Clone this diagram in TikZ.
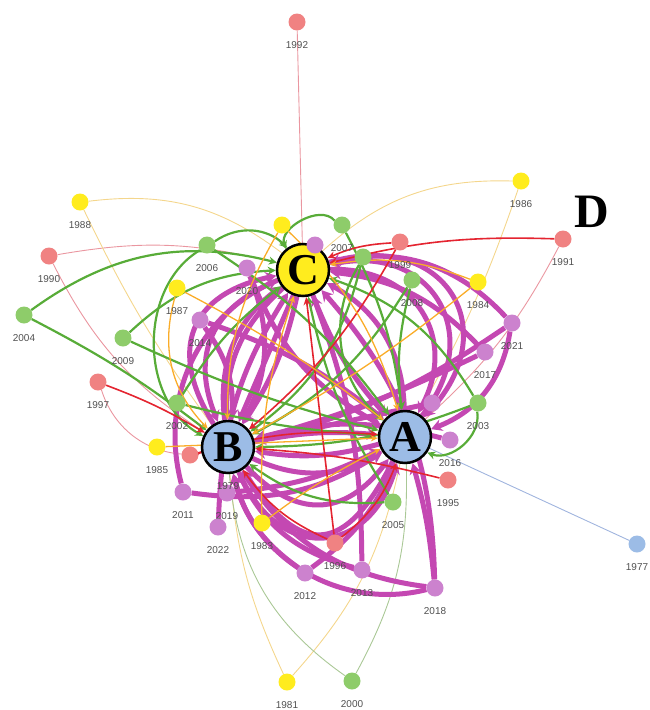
\documentclass[tikz,border=0pt]{standalone}
\usepackage{fontspec}
\setmainfont{Liberation Serif}
\newfontfamily\labfont{Liberation Sans}
\usepackage{xcolor}
\usepackage{tikz}
\usetikzlibrary{arrows.meta}
\usetikzlibrary{backgrounds}

\definecolor{magline}{RGB}{196,72,178}
\definecolor{purpfill}{RGB}{204,130,206}
\definecolor{grnline}{RGB}{88,172,56}
\definecolor{grnfill}{RGB}{142,204,106}
\definecolor{redline}{RGB}{228,36,48}
\definecolor{redfill}{RGB}{240,130,130}
\definecolor{orline}{RGB}{250,172,40}
\definecolor{yelfill}{RGB}{255,236,30}
\definecolor{hubblue}{RGB}{156,188,230}
\definecolor{labgray}{RGB}{80,80,80}
\definecolor{paleyel}{RGB}{244,214,140}
\definecolor{palered}{RGB}{234,150,160}
\definecolor{palegrn}{RGB}{170,200,150}
\definecolor{paleblue}{RGB}{160,180,222}

\tikzset{
  hub/.style={circle, draw=black, line width=2.5pt, fill=#1, minimum size=52pt, inner sep=0pt,
    font=\fontsize{44}{44}\selectfont\bfseries},
  yr/.style={circle, fill=#1, minimum size=17pt, inner sep=0pt},
  yrlab/.style={font=\labfont\fontsize{10}{10}\selectfont, text=labgray, label distance=7pt},
  medge/.style={magline, line width=5pt, -{Stealth[length=11pt,width=12pt]}},
  gedge/.style={grnline, line width=2.2pt, -{Stealth[length=8pt,width=8pt]}},
  redge/.style={redline, line width=1.6pt, -{Stealth[length=8pt,width=7pt]}},
  oedge/.style={orline, line width=1.3pt, -{Stealth[length=7pt,width=6pt]}},
  pedge/.style={#1, line width=0.9pt}
}

\begin{document}
\begin{tikzpicture}[x=1pt, y=-1pt]
\useasboundingbox (0,0) rectangle (649,710);

% Draw the hubs
\node[hub=yelfill] (C) at (303,270) {C};
\node[hub=hubblue] (B) at (228,447) {B};
\node[hub=hubblue] (A) at (405,437) {A};
\node[font=\fontsize{48}{48}\selectfont\bfseries] (D) at (592,212) {D};

% Draw the year nodes
\foreach \n/\x/\y/\c/\t in {
  1992/297/22/redfill/1992, 1991/563/239/redfill/1991, 1990/49/256/redfill/1990,
  1997/98/382/redfill/1997, 1999/400/242/redfill/1999, 1994/190/455/redfill/{},
  1995/448/480/redfill/1995, 1996/335/543/redfill/1996,
  1986/521/181/yelfill/1986, 1988/80/202/yelfill/1988, 1987/177/288/yelfill/1987,
  1984/478/282/yelfill/1984, 1985/157/447/yelfill/1985, 1983/262/523/yelfill/1983,
  1981/287/682/yelfill/1981, yc/282/225/yelfill/{},
  2006/207/245/grnfill/2006, 2009/123/338/grnfill/2009, 2004/24/315/grnfill/2004,
  2002/177/403/grnfill/2002, 2007/342/225/grnfill/2007, gc/363/257/grnfill/{},
  2008/412/280/grnfill/2008, 2003/478/403/grnfill/2003, 2005/393/502/grnfill/2005,
  2000/352/681/grnfill/2000,
  2020/247/268/purpfill/2020, 2014/200/320/purpfill/2014, 2011/183/492/purpfill/2011,
  2019/227/493/purpfill/2019, 2022/218/527/purpfill/2022, 2012/305/573/purpfill/2012,
  2013/362/570/purpfill/2013, 2018/435/588/purpfill/2018, 2021/512/323/purpfill/2021,
  2017/485/352/purpfill/2017, 2016/450/440/purpfill/2016, pa/432/403/purpfill/{},
  pc/315/245/purpfill/{},
  1977/637/544/hubblue/1977}
{
  \node[yr=\c, label={[yrlab]below:\t}] (n\n) at (\x,\y) {};
}
\node[yrlab] (t1979) at (228,486) {1979};

\begin{scope}[on background layer]

% Draw the pale links
\foreach \s/\t/\b/\c in {1992/C/0/palered, 1990/C/-12/palered, 1990/B/15/palered,
  1997/B/40/palered, 1991/A/-10/palered, 1988/C/-22/paleyel, 1988/B/5/paleyel,
  1986/C/22/paleyel, 1986/A/-5/paleyel, 1981/B/-10/paleyel, 1981/A/15/paleyel,
  2000/B/-25/palegrn, 2000/A/15/palegrn, 1977/A/0/paleblue}
{
  \draw[pedge=\c] (n\s) to[bend right=\b] (\t);
}

% Draw the thick links
\foreach \s/\t/\b/\l in {B/A/-8/1, A/B/-12/1, B/A/28/1, C/B/-10/1, B/C/-30/1,
  C/A/10/1, A/C/30/1, C/A/-75/1.7, B/A/70/1.6, C/A/-60/1.3, A/C/70/1.5,
  B/A/50/1.3, A/B/-60/1.8, C/B/45/1.2, B/C/-55/1.4, C/B/25/1}
{
  \draw[medge] (\s) to[bend right=\b, looseness=\l] (\t);
}
\foreach \s/\t/\b in {2012/B/-20, 2012/A/15, 2013/B/-25, 2013/C/10, 2018/B/-45,
  2018/A/5, 2018/C/20, 2014/A/-10, 2014/B/-20, 2020/A/20, 2020/B/-25, 2021/B/-10,
  2021/C/30, 2017/B/-5, 2017/C/20, 2011/A/20, 2011/C/-40, 2019/A/10, 2022/C/-15,
  2016/B/15, pa/B/0, pc/B/0, 2021/A/-30, 2018/B/-25}
{
  \draw[medge] (n\s) to[bend right=\b] (\t);
}

% Draw the green links
\foreach \s/\t/\b in {2006/B/60, 2006/A/-10, 2009/A/5, 2009/C/-20, 2004/B/-5,
  2004/C/-25, 2002/A/5, 2002/C/-10, 2005/B/-20, 2005/C/-10, 2008/B/-15, 2008/A/10,
  2007/A/-10, 2007/C/80, gc/B/-20, gc/A/40, 2003/B/-10, 2003/C/20, 2003/A/-60,
  2006/C/-40}
{
  \draw[gedge] (n\s) to[bend right=\b] (\t);
}

% Draw the red links
\foreach \s/\t/\b in {1996/C/0, 1996/B/-15, 1996/A/15, 1997/B/-5, 1999/C/10,
  1999/B/-10, 1995/B/5, 1994/B/0, 1994/A/-10, 1991/C/8}
{
  \draw[redge] (n\s) to[bend right=\b] (\t);
}

% Draw the orange links
\foreach \s/\t/\b in {1987/A/-5, 1987/B/30, 1984/B/-5, 1984/C/15, 1983/A/-5,
  1983/C/-10, 1985/A/0, yc/B/15, yc/A/-15}
{
  \draw[oedge] (n\s) to[bend right=\b] (\t);
}

\end{scope}

\end{tikzpicture}
\end{document}
